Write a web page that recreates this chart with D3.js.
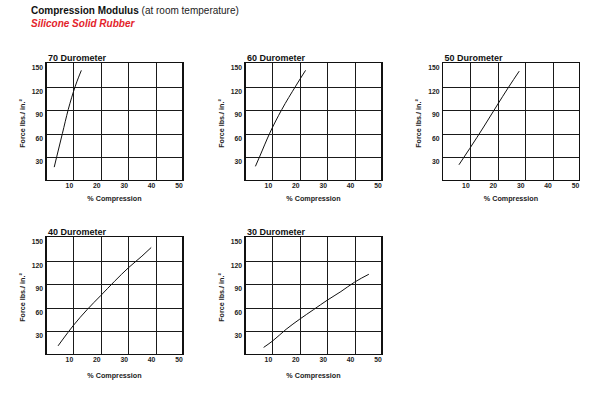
<!DOCTYPE html>
<html lang="en">
<head>
<meta charset="UTF-8">
<title>Compression Modulus</title>
<script src="https://cdnjs.cloudflare.com/ajax/libs/d3/7.8.5/d3.min.js"></script>
<style>
    body { margin: 0; background: #fff; font-family: "Liberation Sans", Arial, sans-serif; }
    .grid line { stroke: #1a1a1a; stroke-width: 1; shape-rendering: crispEdges; }
    .frame { fill: none; stroke: #111; stroke-width: 1.2; shape-rendering: crispEdges; }
    .tick-label { font-size: 6.8px; font-weight: bold; fill: #222; }
    .axis-label { font-size: 7.2px; font-weight: bold; fill: #222; text-anchor: middle; }
    .panel-title { font-size: 9px; font-weight: bold; fill: #111; }
    .curve { fill: none; stroke: #111; stroke-width: 1; }
</style>
</head>
<body>
<div id="chart"></div>
<script>
// chart data
const panelTitles = ["70 Durometer", "60 Durometer", "50 Durometer", "40 Durometer", "30 Durometer"];
const xTicks = [10, 20, 30, 40, 50];
const yTicks = [30, 60, 90, 120, 150];

// % compression vs force (lbs./in.²)
const curve70 = [[3, 17], [3.9, 30], [6, 60], [8.1, 90], [10.7, 120], [12.9, 140]];
const curve60 = [[3.8, 18], [5.3, 30], [9, 60], [13.4, 90], [18.5, 120], [22.1, 140]];
const curve50 = [[6, 20], [10, 41], [15, 68], [20, 96], [24, 118], [28, 139]];
const curve40 = [[4.4, 11], [8, 28], [10, 37], [15, 57], [20, 75], [25, 93], [30, 110], [35, 125], [38.4, 136]];
const curve30 = [[6.8, 9], [10, 17], [15, 32], [20, 45], [25, 57], [30, 69], [35, 80], [40, 92], [45.2, 102]];

const curves = [curve70, curve60, curve50, curve40, curve30];

// layout of the five small plots
const plotW = 137, plotH = 118;
const lefts = [46, 245, 442.5, 46, 245];
const tops = [62.5, 62.5, 62.5, 236.5, 236.5];
const xLabelGap = [20.5, 20.5, 20.5, 23.5, 23.5];

const svg = d3.select("#chart").append("svg")
    .attr("width", 600)
    .attr("height", 394);

// heading
const head = svg.append("text")
    .attr("x", 31)
    .attr("y", 13.5)
    .attr("font-size", "10px");
head.append("tspan").attr("font-weight", "bold").attr("fill", "#111").text("Compression Modulus");
head.append("tspan").attr("fill", "#222").text(" (at room temperature)");

svg.append("text")
    .attr("x", 31)
    .attr("y", 26.5)
    .attr("font-size", "10px")
    .attr("font-weight", "bold")
    .attr("font-style", "italic")
    .attr("fill", "#e3242b")
    .text("Silicone Solid Rubber");

panelTitles.forEach((title, i) => {
    const g = svg.append("g")
        .attr("transform", `translate(${lefts[i]},${tops[i]})`);

    const x = d3.scaleLinear().domain([0, 50]).range([0, plotW]);
    const y = d3.scaleLinear().domain([0, 150]).range([plotH, 0]);

    // grid lines
    g.append("g")
        .attr("class", "grid")
        .selectAll("line.v")
        .data(xTicks.slice(0, -1))
        .enter().append("line")
        .attr("x1", d => Math.round(x(d)) + 0.5)
        .attr("x2", d => Math.round(x(d)) + 0.5)
        .attr("y1", 0)
        .attr("y2", plotH);

    g.append("g")
        .attr("class", "grid")
        .selectAll("line.h")
        .data(yTicks.slice(0, -1))
        .enter().append("line")
        .attr("x1", 0)
        .attr("x2", plotW)
        .attr("y1", d => Math.round(y(d)) + 0.5)
        .attr("y2", d => Math.round(y(d)) + 0.5);

    g.append("rect")
        .attr("class", "frame")
        .attr("width", plotW)
        .attr("height", plotH);

    // tick labels, set slightly off the grid lines as in the original
    g.selectAll(".xt")
        .data(xTicks)
        .enter().append("text")
        .attr("class", "tick-label")
        .attr("x", d => x(d) - 4)
        .attr("y", plotH + 7.5)
        .attr("text-anchor", "middle")
        .text(d => d);

    g.selectAll(".yt")
        .data(yTicks)
        .enter().append("text")
        .attr("class", "tick-label")
        .attr("x", -3)
        .attr("y", d => y(d) + 7.5)
        .attr("text-anchor", "end")
        .text(d => d);

    // axis labels
    g.append("text")
        .attr("class", "axis-label")
        .attr("x", plotW / 2)
        .attr("y", plotH + xLabelGap[i])
        .text("% Compression");

    g.append("text")
        .attr("class", "axis-label")
        .attr("transform", `translate(-21.5,${plotH / 2 + 2}) rotate(-90)`)
        .text("Force lbs./ in.²");

    g.append("text")
        .attr("class", "panel-title")
        .attr("x", 2)
        .attr("y", -2)
        .text(title);

    // curve
    const line = d3.line()
        .x(d => x(d[0]))
        .y(d => y(d[1]))
        .curve(d3.curveMonotoneX);

    g.append("path")
        .datum(curves[i])
        .attr("class", "curve")
        .attr("d", line);
});
</script>
</body>
</html>
